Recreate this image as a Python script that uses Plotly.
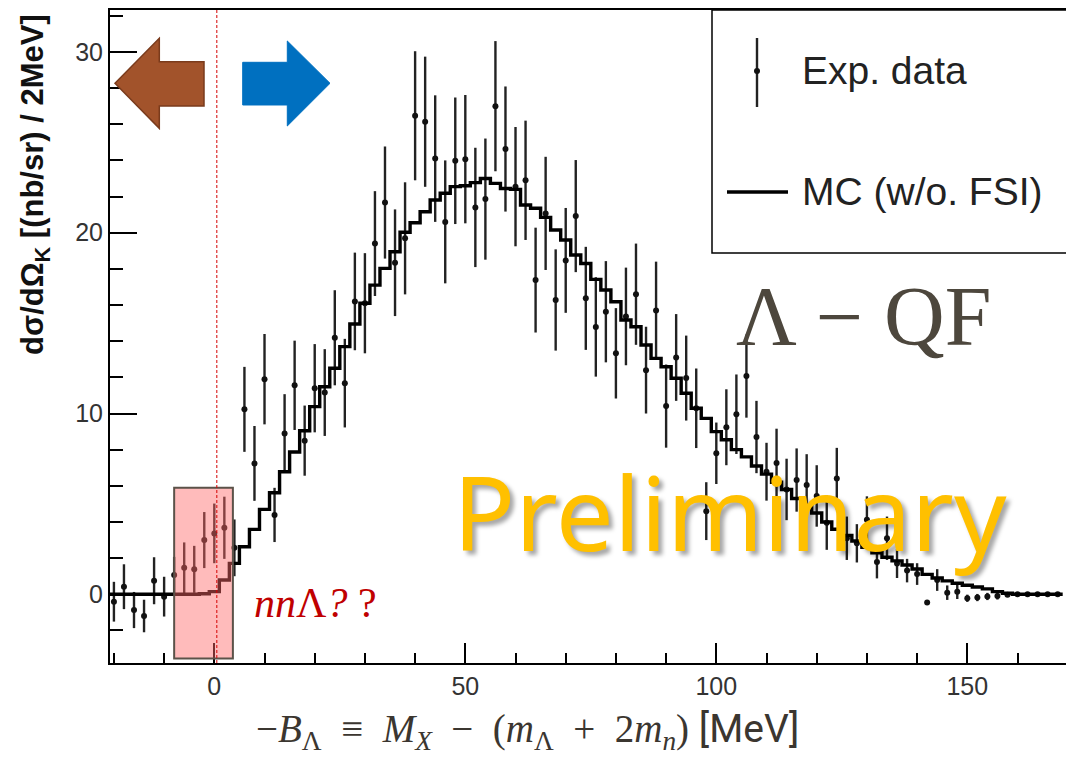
import plotly.graph_objects as go

# ---------------- data ----------------
bin_centers = [-20, -18, -16, -14, -12, -10, -8, -6, -4, -2, 0, 2, 4, 6, 8, 10, 12, 14, 16, 18,
               20, 22, 24, 26, 28, 30, 32, 34, 36, 38, 40, 42, 44, 46, 48, 50, 52, 54, 56, 58,
               60, 62, 64, 66, 68, 70, 72, 74, 76, 78, 80, 82, 84, 86, 88, 90, 92, 94, 96, 98,
               100, 102, 104, 106, 108, 110, 112, 114, 116, 118, 120, 122, 124, 126, 128, 130,
               132, 134, 136, 138, 140, 142, 144, 146, 148, 150, 152, 154, 156, 158, 160, 162,
               164, 166, 168]

exp_data = [-0.41, 0.42, -0.87, -1.2, 0.75, -0.13, 1.07, 1.47, 1.38, 3.0, 3.37, 3.68, 2.57, 10.23,
            7.24, 11.9, 4.39, 8.9, 11.56, 8.5, 11.4, 11.16, 14.19, 11.68, 16.2, 16.1, 19.4, 21.67,
            18.34, 19.69, 26.47, 26.14, 24.1, 20.6, 23.98, 24.07, 21.4, 21.86, 27.0, 24.63, 22.55,
            22.9, 17.38, 21.07, 16.28, 18.47, 20.92, 16.37, 14.79, 15.63, 13.33, 15.37, 16.6, 12.4,
            15.7, 10.41, 13.1, 11.96, 10.29, 4.6, 7.8, 9.24, 9.96, 12.07, 8.7, 6.78, 7.26, 5.8,
            6.32, 6.05, 5.44, 3.96, 6.4, 3.1, 2.82, 4.12, 1.78, 3.1, 1.7, 1.31, 1.12, -0.46, 0.79,
            0.09, 0.14, -0.22, -0.18, -0.12, -0.09, -0.02, 0.0, 0.0, 0.0, 0.0, 0.0]

exp_err = [1.1, 1.24, 1.0, 0.9, 1.3, 1.1, 1.0, 1.4, 1.3, 1.55, 1.65, 1.72, 1.57, 2.35, 2.07, 2.5,
           1.5, 2.17, 2.47, 1.94, 2.44, 2.4, 2.63, 2.45, 2.7, 2.77, 2.9, 3.1, 2.95, 3.1, 3.57,
           3.6, 3.5, 3.4, 3.5, 3.55, 3.3, 3.35, 3.6, 3.46, 3.3, 3.3, 2.9, 3.13, 2.8, 2.9, 3.1,
           2.85, 2.75, 2.8, 2.5, 2.7, 2.8, 2.4, 2.7, 2.3, 2.4, 2.35, 2.2, 1.6, 1.7, 2.1, 2.2, 2.3,
           2.0, 1.6, 1.9, 1.7, 1.75, 1.7, 1.7, 1.5, 1.7, 1.2, 1.06, 1.3, 0.9, 1.2, 0.8, 0.65, 0.6,
           0.0, 0.6, 0.4, 0.4, 0.2, 0.2, 0.2, 0.2, 0.1, 0.0, 0.0, 0.0, 0.0, 0.0]

mc_wo_fsi = [0, 0, 0, 0, 0, 0, 0, 0, 0, 0.03, 0.15, 0.79, 1.71, 2.63, 3.59, 4.7, 5.62, 6.78, 7.87,
             9.05, 10.38, 11.48, 12.5, 13.7, 14.95, 16.1, 17.1, 18.03, 18.95, 20.03, 20.55, 21.16,
             21.81, 22.18, 22.55, 22.6, 22.77, 23.0, 22.73, 22.45, 22.4, 21.53, 21.35, 20.85,
             20.15, 19.6, 18.77, 18.3, 17.42, 16.83, 16.18, 15.17, 14.8, 13.79, 13.05, 12.59,
             11.95, 11.12, 10.29, 9.73, 9.0, 8.55, 8.0, 7.6, 7.1, 6.65, 6.2, 5.8, 5.3, 4.9, 4.5,
             4.0, 3.6, 3.25, 2.95, 2.6, 2.3, 2.05, 1.85, 1.62, 1.4, 1.1, 0.9, 0.74, 0.61, 0.5, 0.4,
             0.3, 0.15, 0.06, 0, 0, 0, 0, 0]

bin_width = 2
x_ticks = [0, 50, 100, 150]
y_ticks = [0, 10, 20, 30]

# ---------------- geometry helpers ----------------
W, H = 1066, 761
ML, MR, MT, MB = 110, 0, 10, 98


def fx(p):
    return (p - ML) / (W - ML - MR)


def fy(p):
    return (H - MB - p) / (H - MT - MB)


# step histogram edges built from bin centres
edges = [c - bin_width / 2 for c in bin_centers] + [bin_centers[-1] + bin_width / 2]
mc_step = list(mc_wo_fsi) + [mc_wo_fsi[-1]]

fig = go.Figure()

fig.add_trace(go.Scatter(
    x=bin_centers, y=exp_data, mode="markers",
    marker=dict(size=6, color="#111"),
    error_y=dict(type="data", array=exp_err, visible=True, thickness=2.4, width=0, color="#222"),
    showlegend=False, name="Exp. data"))

fig.add_trace(go.Scatter(
    x=edges, y=mc_step, mode="lines", line=dict(color="black", width=3.4, shape="hv"),
    showlegend=False, name="MC (w/o. FSI)"))


def path(points):
    s = "M " + " L ".join(f"{fx(a):.5f},{fy(b):.5f}" for a, b in points) + " Z"
    return s


shapes = []
# pink box
shapes.append(dict(type="rect", xref="x", yref="y", x0=-8.0, x1=3.7, y0=-3.55, y1=5.9,
                   fillcolor="rgba(255,105,105,0.45)", line=dict(color="#5b5249", width=2),
                   layer="above"))
# dashed red line
shapes.append(dict(type="line", xref="x", yref="paper", x0=0.5, x1=0.5, y0=0, y1=1,
                   line=dict(color="#d40000", width=1, dash="3px,2px"), layer="above"))
# brown arrow (left)
shapes.append(dict(type="path", xref="paper", yref="paper",
                   path=path([(115, 83.3), (159.3, 38.3), (159.3, 61.7), (204, 61.7), (204, 106),
                              (159.3, 106), (159.3, 128.3)]),
                   fillcolor="#A2532B", line=dict(color="#7a3b1c", width=1.5), layer="above"))
# blue arrow (right)
shapes.append(dict(type="path", xref="paper", yref="paper",
                   path=path([(242.7, 62.3), (287.3, 62.3), (287.3, 41), (330, 83.3), (287.3, 126),
                              (287.3, 105), (242.7, 105)]),
                   fillcolor="#0070C0", line=dict(color="#0070C0", width=1), layer="above"))
# legend box
shapes.append(dict(type="rect", xref="paper", yref="paper", x0=fx(712), x1=fx(1075),
                   y0=fy(253), y1=fy(10), line=dict(color="black", width=1.5),
                   fillcolor="rgba(255,255,255,0)", layer="above"))
# legend sample: error bar + dot
shapes.append(dict(type="line", xref="paper", yref="paper", x0=fx(757), x1=fx(757),
                   y0=fy(38), y1=fy(107), line=dict(color="#222", width=2.4)))
shapes.append(dict(type="circle", xref="paper", yref="paper", x0=fx(754), x1=fx(760),
                   y0=fy(74), y1=fy(68), fillcolor="#111", line=dict(color="#111", width=0)))
# legend sample: MC line
shapes.append(dict(type="line", xref="paper", yref="paper", x0=fx(727), x1=fx(788),
                   y0=fy(192), y1=fy(192), line=dict(color="black", width=3.4)))

annotations = [
    dict(text="Exp. data", x=fx(800), y=fy(70), xref="paper", yref="paper", xanchor="left",
         yanchor="middle", showarrow=False,
         font=dict(family="Liberation Sans, Arial", size=39, color="#222")),
    dict(text="MC (w/o. FSI)", x=fx(800), y=fy(192), xref="paper", yref="paper",
         xanchor="left", yanchor="middle", showarrow=False,
         font=dict(family="Liberation Sans, Arial", size=39, color="#222")),
    dict(text="Λ − QF", x=fx(864), y=fy(316), xref="paper", yref="paper", xanchor="center",
         yanchor="middle", showarrow=False,
         font=dict(family="Liberation Serif, serif", size=84, color="#4d473d")),
    dict(text="Preliminary", x=fx(730), y=fy(511), xref="paper", yref="paper",
         xanchor="center", yanchor="middle", showarrow=False,
         font=dict(family="Noto Sans, Open Sans", size=103, color="#FFC000",
                   shadow="4px 4px 4px rgba(0,0,0,0.35)")),
    dict(text="<i>nn</i>Λ<i>?</i> ?", x=fx(315), y=fy(603), xref="paper", yref="paper",
         xanchor="center", yanchor="middle", showarrow=False,
         font=dict(family="Liberation Serif, serif", size=42, color="#C00000")),
    dict(text="−<i>B</i><sub>Λ</sub>  ≡  <i>M</i><sub><i>X</i></sub>  −  (<i>m</i><sub>Λ</sub>  +  2<i>m</i><sub><i>n</i></sub>) "
              "<span style='font-family:Liberation Sans Narrow, Roboto, Liberation Sans'>[MeV]</span>",
         x=fx(527), y=fy(731), xref="paper", yref="paper", xanchor="center", yanchor="middle",
         showarrow=False, font=dict(family="Liberation Serif, serif", size=39, color="#3b3630")),
    dict(text="<b>dσ/dΩ<sub>K</sub> [(nb/sr) / 2MeV]</b>", x=fx(35), y=fy(185), xref="paper",
         yref="paper", xanchor="center", yanchor="middle", textangle=-90, showarrow=False,
         font=dict(family="Liberation Sans, Arial", size=31, color="#111")),
]

fig.update_layout(
    width=W, height=H,
    margin=dict(l=ML, r=MR, t=MT, b=MB),
    paper_bgcolor="white", plot_bgcolor="white",
    shapes=shapes, annotations=annotations,
    xaxis=dict(range=[-20.78, 169.66], tickvals=x_ticks, ticks="inside", ticklen=20,
               tickwidth=1.5, tickcolor="black", showline=True, linewidth=2, linecolor="black",
               mirror=True, showgrid=False, zeroline=False,
               tickfont=dict(family="Liberation Sans, Arial", size=25, color="#333"),
               minor=dict(dtick=10, tick0=0, ticks="inside", ticklen=10, tickwidth=1.5,
                          tickcolor="black")),
    yaxis=dict(range=[-3.8, 32.32], tickvals=y_ticks, ticks="inside", ticklen=27,
               tickwidth=1.5, tickcolor="black", showline=True, linewidth=2, linecolor="black",
               mirror=False, showgrid=False, zeroline=False,
               tickfont=dict(family="Liberation Sans, Arial", size=25, color="#333"),
               minor=dict(dtick=2, tick0=0, ticks="inside", ticklen=13, tickwidth=1.5,
                          tickcolor="black")),
)

fig.write_html("out.html")
